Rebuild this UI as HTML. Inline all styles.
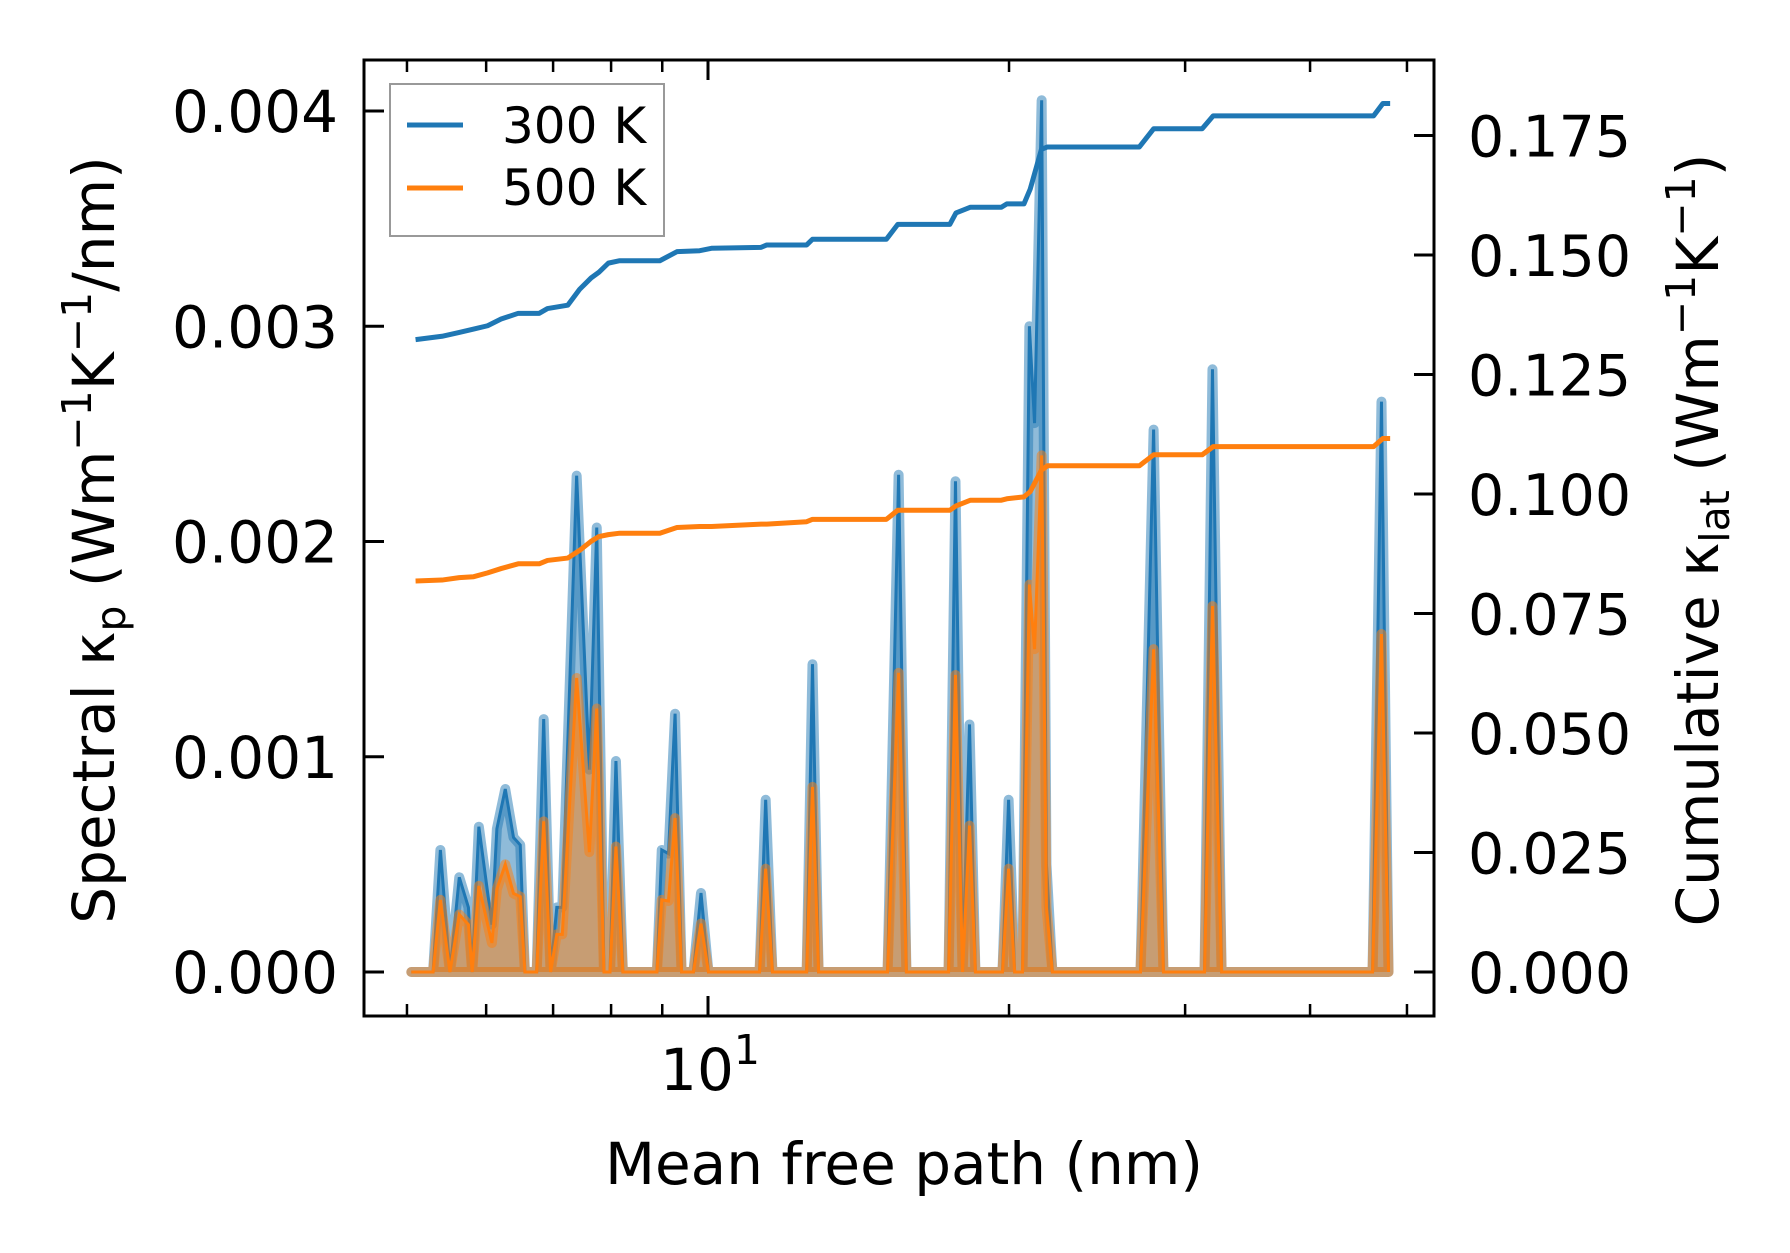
<!DOCTYPE html>
<html><head><meta charset="utf-8"><style>
html,body{margin:0;padding:0;background:#fff;}
svg{display:block;font-family:"DejaVu Sans","Liberation Sans",sans-serif;}
</style></head>
<body>
<svg id="chart" width="1790" height="1253" viewBox="0 0 1790 1253" xmlns="http://www.w3.org/2000/svg">
<g id="plot"></g>
<g id="axes"></g>
</svg>
<script>
// spectral data (x in nm, values in 1e-3 W m^-1 K^-1 / nm)
const specX = [5.05,5.31,5.40,5.52,5.64,5.76,5.81,5.90,6.08,6.15,6.27,6.39,6.49,6.56,6.74,6.85,6.96,7.06,7.15,7.39,7.61,7.74,7.87,7.98,8.09,8.22,8.89,8.99,9.13,9.27,9.41,9.67,9.84,10.01,11.26,11.42,11.60,12.55,12.72,12.90,15.12,15.51,15.79,17.40,17.68,17.97,18.26,18.51,19.70,19.98,20.26,20.63,20.96,21.21,21.56,21.80,22.10,27.07,27.90,28.54,31.37,31.95,32.63,46.19,47.15,47.92];
const spec300 = [0,0,0.567,0,0.44,0.30,0,0.675,0.22,0.665,0.85,0.625,0.59,0,0,1.175,0,0.30,0.30,2.306,0.94,2.065,0,0,0.98,0,0,0.567,0.55,1.2,0,0,0.367,0,0,0.8,0,0,1.43,0,0,2.31,0,0,2.28,0,1.15,0,0,0.8,0,0,3.0,2.55,4.05,0.5,0,0,2.52,0,0,2.8,0,0,2.65,0];
const spec500 = [0,0,0.335,0,0.267,0.22,0,0.40,0.135,0.385,0.50,0.365,0.35,0,0,0.70,0,0.175,0.175,1.366,0.557,1.224,0,0,0.583,0,0,0.335,0.33,0.715,0,0,0.225,0,0,0.48,0,0,0.86,0,0,1.39,0,0,1.38,0,0.68,0,0,0.48,0,0,1.8,1.5,2.4,0.3,0,0,1.5,0,0,1.7,0,0,1.57,0];
// cumulative data
const cumX = [5.10,5.42,5.64,5.83,6.02,6.21,6.46,6.78,6.91,7.24,7.44,7.64,7.78,7.95,8.16,8.95,9.31,9.81,10.08,11.30,11.45,12.55,12.72,15.08,15.48,17.45,17.70,18.30,19.65,19.90,20.70,21.00,21.55,21.85,27.00,27.90,31.20,32.00,46.30,47.30,48.10];
const cum300 = [0.1323,0.1330,0.1338,0.1345,0.1352,0.1366,0.1378,0.1378,0.1388,0.1395,0.1428,0.1452,0.1464,0.1483,0.1488,0.1488,0.1507,0.1509,0.1514,0.1516,0.1521,0.1521,0.1533,0.1533,0.1564,0.1564,0.1588,0.1600,0.1600,0.1607,0.1607,0.1638,0.1721,0.1726,0.1726,0.1764,0.1764,0.1791,0.1791,0.1817,0.1817];
const cum500 = [0.0818,0.0820,0.0825,0.0827,0.0835,0.0844,0.0854,0.0854,0.0861,0.0866,0.0882,0.0901,0.0911,0.0915,0.0918,0.0918,0.0930,0.0932,0.0932,0.0937,0.0937,0.0942,0.0947,0.0947,0.0966,0.0966,0.0975,0.0987,0.0987,0.0990,0.0994,0.1005,0.1050,0.1059,0.1059,0.1082,0.1082,0.1099,0.1099,0.1116,0.1116];
const leftTicks = [0,0.001,0.002,0.003,0.004];
const leftTickLabels = ["0.000","0.001","0.002","0.003","0.004"];
const rightTicks = [0,0.025,0.05,0.075,0.1,0.125,0.15,0.175];
const rightTickLabels = ["0.000","0.025","0.050","0.075","0.100","0.125","0.150","0.175"];
const minorX = [5,6,7,8,9,20,30,40,50];

const NS="http://www.w3.org/2000/svg";
const L=364,R=1434,T=60,B=1016;
function xs(v){return 708+1000*(Math.log10(v)-1);}
function yl(v){return 972-v*215250;}
function yr(v){return 972-v*4780;}
function mk(tag,attrs,parent){const e=document.createElementNS(NS,tag);for(const k in attrs)e.setAttribute(k,attrs[k]);parent.appendChild(e);return e;}
const plot=document.getElementById('plot'), axes=document.getElementById('axes');

function spectral(vals,color,name){
  let d='M'+xs(specX[0])+','+yl(0);
  specX.forEach((x,i)=>{d+=' L'+xs(x)+','+yl(vals[i]*1e-3);});
  d+=' L'+xs(specX[specX.length-1])+','+yl(0)+' Z';
  const f=mk('path',{d:d,fill:color,'fill-opacity':0.5,stroke:color,'stroke-opacity':0.5,'stroke-width':10,'stroke-linejoin':'round'},plot);
  
  
  let d2='';
  specX.forEach((x,i)=>{d2+=(i?' L':'M')+xs(x)+','+yl(vals[i]*1e-3);});
  const l=mk('path',{d:d2,fill:'none',stroke:color,'stroke-width':3},plot);
  
  
}
spectral(spec300,'#1f77b4','spectral-300k');
spectral(spec500,'#ff7f0e','spectral-500k');
function cum(vals,color,name){
  let d='';
  cumX.forEach((x,i)=>{d+=(i?' L':'M')+xs(x)+','+yr(vals[i]);});
  const l=mk('path',{d:d,fill:'none',stroke:color,'stroke-width':5,'stroke-linejoin':'round'},plot);
  
  
}
cum(cum300,'#1f77b4','cumulative-300k');
cum(cum500,'#ff7f0e','cumulative-500k');

const fr=mk('rect',{x:L,y:T,width:R-L,height:B-T,fill:'none',stroke:'#000','stroke-width':3},axes);


minorX.forEach(v=>{const x=xs(v);
  const a=mk('line',{x1:x,x2:x,y1:B,y2:B-12,stroke:'#000','stroke-width':2.5},axes);
  
  
  const b=mk('line',{x1:x,x2:x,y1:T,y2:T+12,stroke:'#000','stroke-width':2.5},axes);
  
  
});
[10].forEach(v=>{const x=xs(v);
  const a=mk('line',{x1:x,x2:x,y1:B,y2:B-20,stroke:'#000','stroke-width':3},axes);
  
  
  const b=mk('line',{x1:x,x2:x,y1:T,y2:T+20,stroke:'#000','stroke-width':3},axes);
  
  
  const t=mk('text',{x:x+2,y:1090,'font-size':58,'text-anchor':'middle'},axes);
  t.innerHTML='10<tspan dy="-26" font-size="41">1</tspan>';
  
  
});
leftTicks.forEach((v,i)=>{const y=yl(v);
  const a=mk('line',{x1:L,x2:L+20,y1:y,y2:y,stroke:'#000','stroke-width':3},axes);
  
  
  const t=mk('text',{x:338,y:y+21,'font-size':58,'text-anchor':'end'},axes);
  t.textContent=leftTickLabels[i];
  
  
});
rightTicks.forEach((v,i)=>{const y=yr(v);
  const a=mk('line',{x1:R,x2:R-20,y1:y,y2:y,stroke:'#000','stroke-width':3},axes);
  
  
  const t=mk('text',{x:1468,y:y+21,'font-size':57,'text-anchor':'start'},axes);
  t.textContent=rightTickLabels[i];
  
  
});
</script>
<svg style="position:absolute;left:0;top:0" width="1790" height="1253" xmlns="http://www.w3.org/2000/svg">
<g font-family="DejaVu Sans, Liberation Sans, sans-serif" font-size="58">
<text x="904" y="1184" text-anchor="middle">Mean free path (nm)</text>
<text transform="translate(114,540) rotate(-90)" text-anchor="middle">Spectral κ<tspan font-size="41" dy="11">p</tspan><tspan dy="-11"> (Wm</tspan><tspan font-size="41" dy="-23">−1</tspan><tspan dy="23">K</tspan><tspan font-size="41" dy="-23">−1</tspan><tspan dy="23">/nm)</tspan></text>
<text transform="translate(1718,540) rotate(-90)" text-anchor="middle">Cumulative κ<tspan font-size="41" dy="11">lat</tspan><tspan dy="-11"> (Wm</tspan><tspan font-size="41" dy="-23">−1</tspan><tspan dy="23">K</tspan><tspan font-size="41" dy="-23">−1</tspan><tspan dy="23">)</tspan></text>
<g font-size="50">
<rect x="390" y="84" width="274" height="152" fill="#fff" fill-opacity="0.8" stroke="#999" stroke-width="2"/>
<line x1="407" x2="463" y1="125" y2="125" stroke="#1f77b4" stroke-width="5"/>
<text x="502" y="143">300 K</text>
<line x1="407" x2="463" y1="188" y2="188" stroke="#ff7f0e" stroke-width="5"/>
<text x="502" y="205">500 K</text>
</g>
</g>
</svg>
</body></html>
